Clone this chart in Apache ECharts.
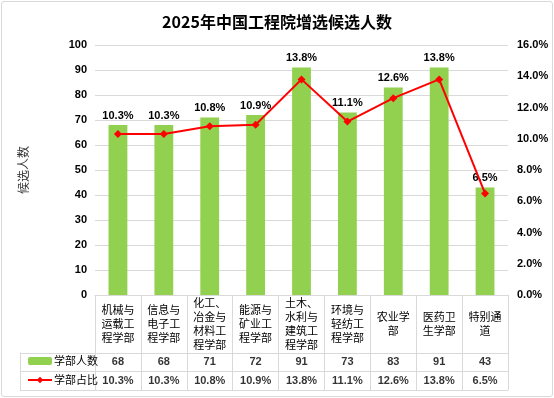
<!DOCTYPE html>
<html>
<head>
<meta charset="utf-8">
<script src="https://cdn.jsdelivr.net/npm/echarts@6/dist/echarts.min.js"></script>
<style>
  html, body { margin: 0; padding: 0; background: #fff; }
  #main { width: 554px; height: 398px; }
  #frame { position: absolute; left: 1px; top: 1px; width: 550px; height: 394px;
           border: 1px solid #d9d9d9; border-radius: 3px; pointer-events: none; }
</style>
</head>
<body>
<div id="main"></div>
<div id="frame"></div>
<script>
// 学部名称
const departments = ['机械与运载工程学部', '信息与电子工程学部', '化工、冶金与材料工程学部',
  '能源与矿业工程学部', '土木、水利与建筑工程学部', '环境与轻纺工程学部',
  '农业学部', '医药卫生学部', '特别通道'];
// 学部人数
const counts = [68, 68, 71, 72, 91, 73, 83, 91, 43];
// 学部占比 (%)
const shares = [10.3, 10.3, 10.8, 10.9, 13.8, 11.1, 12.6, 13.8, 6.5];
const tableRows = ['学部人数', '学部占比'];

const gridColor = '#d9d9d9';
const green = '#92d050';
const red = '#ff0000';
const sans = 'Liberation Sans';
const cjk = 'Noto Sans CJK SC';

// 每三个字换一行
function wrap3(s) {
  let out = [];
  for (let i = 0; i < s.length; i += 3) out.push(s.slice(i, i + 3));
  return out.join('\n');
}

// 数据表格的单元格
const countCells = counts.map((v, i) => [i, 0, v]);
const shareCells = shares.map((v, i) => [i, 1, v]);

const chart = echarts.init(document.getElementById('main'));
chart.setOption({
  animation: false,
  backgroundColor: '#fff',
  title: {
    text: '2025年中国工程院增选候选人数',
    left: 'center', top: 9,
    textStyle: { fontFamily: cjk, fontSize: 16, fontWeight: 'bold', color: '#000' }
  },
  legend: {
    orient: 'vertical', left: 22, top: 349,
    itemWidth: 24, itemHeight: 8, itemGap: 5,
    selectedMode: false,
    data: tableRows,
    textStyle: { fontFamily: cjk, fontSize: 11, lineHeight: 14, color: '#000', padding: [0, 0, 0, -3] }
  },
  grid: [
    { left: 95, right: 46, top: 45, bottom: 103 },
    { left: 95, right: 46, top: 353, height: 37 }
  ],
  xAxis: [
    {
      type: 'category', gridIndex: 0, data: departments,
      axisLine: { lineStyle: { color: gridColor } },
      axisTick: { show: true, interval: 0, length: 58, lineStyle: { color: gridColor } },
      axisLabel: {
        interval: 0, margin: 29, verticalAlign: 'middle',
        fontFamily: cjk, fontSize: 11, lineHeight: 14, color: '#000',
        formatter: wrap3
      }
    },
    {
      type: 'category', gridIndex: 1, data: departments,
      axisLine: { show: false }, axisTick: { show: false }, axisLabel: { show: false },
      splitLine: { show: true, interval: 0, lineStyle: { color: gridColor } }
    }
  ],
  yAxis: [
    {
      type: 'value', gridIndex: 0, min: 0, max: 100, interval: 10,
      name: '候选人数', nameLocation: 'middle', nameRotate: 90, nameGap: 66,
      nameTextStyle: { fontFamily: cjk, fontSize: 12, color: '#333' },
      axisLabel: { margin: 8, fontFamily: sans, fontSize: 11, fontWeight: 'bold', color: '#000' },
      splitLine: { lineStyle: { color: gridColor } }
    },
    {
      type: 'value', gridIndex: 0, min: 0, max: 16, interval: 2, position: 'right',
      axisLabel: { margin: 9, fontFamily: sans, fontSize: 11, fontWeight: 'bold', color: '#000',
        formatter: v => v.toFixed(1) + '%' },
      splitLine: { show: false }
    },
    {
      type: 'category', gridIndex: 1, data: tableRows, inverse: true,
      axisLine: { show: true, lineStyle: { color: gridColor } },
      axisTick: { show: true, interval: 0, length: 75, lineStyle: { color: gridColor } },
      axisLabel: { show: false },
      splitLine: { show: true, interval: 0, lineStyle: { color: gridColor } }
    },
    {
      type: 'category', gridIndex: 1, data: tableRows, inverse: true, position: 'left', offset: 75,
      axisLine: { show: true, lineStyle: { color: gridColor } },
      axisTick: { show: false }, axisLabel: { show: false }
    }
  ],
  series: [
    {
      name: '学部人数', type: 'bar', xAxisIndex: 0, yAxisIndex: 0,
      data: counts, barWidth: '41%', itemStyle: { color: green },
      label: {
        show: true, position: 'top', distance: 4,
        fontFamily: sans, fontSize: 11, fontWeight: 'bold', color: '#000',
        formatter: p => shares[p.dataIndex].toFixed(1) + '%'
      }
    },
    {
      name: '学部占比', type: 'line', xAxisIndex: 0, yAxisIndex: 1,
      data: shares, symbol: 'diamond', symbolSize: 8,
      lineStyle: { color: red, width: 2 }, itemStyle: { color: red }
    },
    {
      type: 'scatter', xAxisIndex: 1, yAxisIndex: 2, silent: true,
      data: countCells, symbolSize: 0,
      label: { show: true, position: 'inside', fontFamily: sans, fontSize: 11, fontWeight: 'bold', color: '#000',
        formatter: p => String(p.value[2]) }
    },
    {
      type: 'scatter', xAxisIndex: 1, yAxisIndex: 2, silent: true,
      data: shareCells, symbolSize: 0,
      label: { show: true, position: 'inside', fontFamily: sans, fontSize: 11, fontWeight: 'bold', color: '#000',
        formatter: p => p.value[2].toFixed(1) + '%' }
    }
  ]
});
</script>
</body>
</html>
